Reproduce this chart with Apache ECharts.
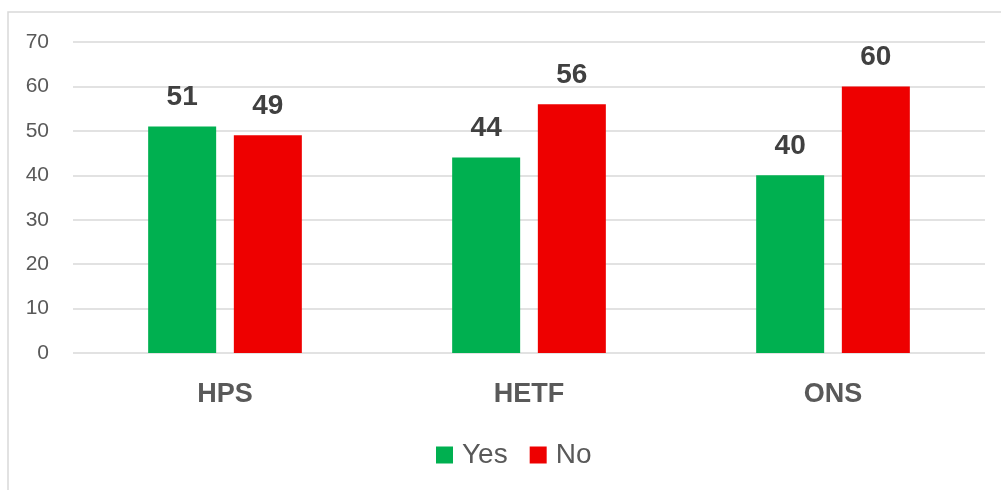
<!DOCTYPE html>
<html>
<head>
<meta charset="utf-8">
<script src="https://cdn.jsdelivr.net/npm/echarts@6/dist/echarts.min.js"></script>
<style>
  html, body { margin: 0; padding: 0; background: #ffffff; }
  #chart { width: 1001px; height: 490px; }
</style>
</head>
<body>
<div id="chart"></div>
<script>
// Survey responses per group
const categories = ['HPS', 'HETF', 'ONS'];
const yesValues = [51, 44, 40];
const noValues = [49, 56, 60];
const seriesNames = ['Yes', 'No'];

const FONT = '"Liberation Sans", Arial, sans-serif';

const chart = echarts.init(document.getElementById('chart'), null, { renderer: 'canvas' });

const valueLabel = {
  show: true,
  position: 'top',
  distance: 15,
  fontFamily: FONT,
  fontSize: 28,
  fontWeight: 'bold',
  color: '#404040'
};

chart.setOption({
  animation: false,
  backgroundColor: '#ffffff',
  graphic: [{
    type: 'rect',
    shape: { x: 8, y: 12, width: 1200, height: 700 },
    style: { fill: 'none', stroke: '#d9d9d9', lineWidth: 1.5 },
    silent: true,
    z: -1
  }],
  grid: { left: 73, right: 16, top: 42, bottom: 137, containLabel: false },
  legend: {
    data: seriesNames,
    left: 436,
    top: 441,
    padding: 0,
    itemWidth: 17,
    itemHeight: 17,
    itemGap: 22,
    icon: 'rect',
    textStyle: {
      fontFamily: FONT,
      fontSize: 28,
      color: '#595959',
      padding: [0, 0, 0, 4]
    }
  },
  xAxis: {
    type: 'category',
    data: categories,
    axisLine: { show: false },
    axisTick: { show: false },
    axisLabel: {
      margin: 28,
      fontFamily: FONT,
      fontSize: 27,
      fontWeight: 'bold',
      color: '#595959'
    }
  },
  yAxis: {
    type: 'value',
    min: 0,
    max: 70,
    interval: 10,
    axisLine: { show: false },
    axisTick: { show: false },
    splitLine: { lineStyle: { color: '#d9d9d9', width: 1.5 } },
    axisLabel: {
      margin: 24,
      fontFamily: FONT,
      fontSize: 21,
      color: '#595959'
    }
  },
  series: [
    {
      name: seriesNames[0],
      type: 'bar',
      data: yesValues,
      barWidth: 68,
      barGap: '26%',
      itemStyle: { color: '#00b050' },
      label: valueLabel
    },
    {
      name: seriesNames[1],
      type: 'bar',
      data: noValues,
      barWidth: 68,
      itemStyle: { color: '#ee0000' },
      label: valueLabel
    }
  ]
});
</script>
</body>
</html>
